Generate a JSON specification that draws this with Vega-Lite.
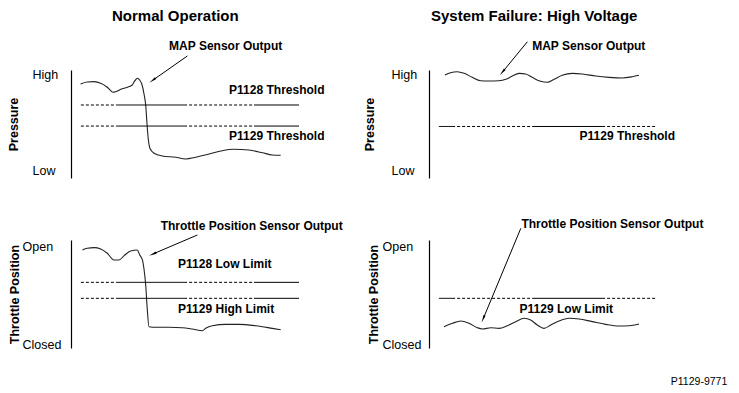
{
  "$schema": "https://vega.github.io/schema/vega-lite/v6.json",
  "background": "white",
  "padding": {"left": 7, "top": 8, "right": 5, "bottom": 5},
  "config": {
    "font": "Liberation Sans",
    "view": {"stroke": null},
    "axisY": {
      "domainColor": "black", "domainWidth": 1.2, "ticks": false, "tickSize": 0, "grid": false,
      "labelAlign": "left", "labelBaseline": "middle", "labelFont": "Liberation Sans", "labelFontSize": 12.5,
      "labelColor": "black", "titleFont": "Liberation Sans", "titleFontSize": 12.5, "titleFontWeight": "bold",
      "titleColor": "black", "labelOverlap": false, "labelBound": false
    },
    "title": {"font": "Liberation Sans", "fontSize": 15, "fontWeight": "bold", "color": "black", "anchor": "start", "frame": "group", "baseline": "alphabetic", "offset": 16}
  },
  "datasets": {
    "curves": [
      {"panel": "TL", "x": 3.2, "y": 87.0}, {"panel": "TL", "x": 5.4, "y": 88.9}, {"panel": "TL", "x": 7.7, "y": 89.2},
      {"panel": "TL", "x": 9.9, "y": 87.7}, {"panel": "TL", "x": 12.1, "y": 84.0}, {"panel": "TL", "x": 14.0, "y": 79.4},
      {"panel": "TL", "x": 14.9, "y": 79.9}, {"panel": "TL", "x": 16.6, "y": 82.1}, {"panel": "TL", "x": 18.8, "y": 84.0},
      {"panel": "TL", "x": 20.4, "y": 86.1}, {"panel": "TL", "x": 21.3, "y": 90.1}, {"panel": "TL", "x": 22.1, "y": 92.3},
      {"panel": "TL", "x": 22.9, "y": 90.7}, {"panel": "TL", "x": 23.6, "y": 87.0}, {"panel": "TL", "x": 24.3, "y": 78.4},
      {"panel": "TL", "x": 24.9, "y": 67.6}, {"panel": "TL", "x": 25.4, "y": 47.5}, {"panel": "TL", "x": 25.8, "y": 35.2},
      {"panel": "TL", "x": 26.3, "y": 27.5}, {"panel": "TL", "x": 27.7, "y": 22.9}, {"panel": "TL", "x": 30.4, "y": 20.4},
      {"panel": "TL", "x": 34.9, "y": 19.2}, {"panel": "TL", "x": 38.2, "y": 17.6}, {"panel": "TL", "x": 41.6, "y": 19.2},
      {"panel": "TL", "x": 46.0, "y": 22.2}, {"panel": "TL", "x": 50.4, "y": 25.3}, {"panel": "TL", "x": 54.3, "y": 26.6},
      {"panel": "TL", "x": 59.3, "y": 25.9}, {"panel": "TL", "x": 63.8, "y": 23.4}, {"panel": "TL", "x": 67.1, "y": 21.3},
      {"panel": "TL", "x": 69.9, "y": 21.0},
      {"panel": "TR", "x": 5.3, "y": 95.4}, {"panel": "TR", "x": 7.2, "y": 97.5}, {"panel": "TR", "x": 9.4, "y": 98.4},
      {"panel": "TR", "x": 11.7, "y": 96.9}, {"panel": "TR", "x": 14.4, "y": 93.2}, {"panel": "TR", "x": 17.2, "y": 90.1},
      {"panel": "TR", "x": 20.0, "y": 89.8}, {"panel": "TR", "x": 23.3, "y": 90.1}, {"panel": "TR", "x": 25.6, "y": 91.4},
      {"panel": "TR", "x": 27.8, "y": 94.4}, {"panel": "TR", "x": 30.0, "y": 96.9}, {"panel": "TR", "x": 32.2, "y": 96.3},
      {"panel": "TR", "x": 34.4, "y": 93.2}, {"panel": "TR", "x": 37.2, "y": 89.5}, {"panel": "TR", "x": 39.4, "y": 88.6},
      {"panel": "TR", "x": 41.7, "y": 91.4}, {"panel": "TR", "x": 44.4, "y": 95.1}, {"panel": "TR", "x": 47.8, "y": 96.9},
      {"panel": "TR", "x": 51.1, "y": 96.3}, {"panel": "TR", "x": 55.6, "y": 94.4}, {"panel": "TR", "x": 60.0, "y": 93.2},
      {"panel": "TR", "x": 64.4, "y": 92.6}, {"panel": "TR", "x": 67.8, "y": 93.8}, {"panel": "TR", "x": 70.0, "y": 95.1},
      {"panel": "BL", "x": 3.8, "y": 90.7}, {"panel": "BL", "x": 5.4, "y": 92.3}, {"panel": "BL", "x": 7.7, "y": 92.9},
      {"panel": "BL", "x": 9.9, "y": 91.7}, {"panel": "BL", "x": 12.1, "y": 87.7}, {"panel": "BL", "x": 14.3, "y": 81.5},
      {"panel": "BL", "x": 16.0, "y": 81.5}, {"panel": "BL", "x": 17.7, "y": 85.5}, {"panel": "BL", "x": 19.9, "y": 89.8},
      {"panel": "BL", "x": 22.1, "y": 90.7}, {"panel": "BL", "x": 22.9, "y": 86.1}, {"panel": "BL", "x": 23.8, "y": 81.5},
      {"panel": "BL", "x": 24.3, "y": 73.8}, {"panel": "BL", "x": 24.9, "y": 58.3}, {"panel": "BL", "x": 25.4, "y": 36.8},
      {"panel": "BL", "x": 26.0, "y": 19.7}, {"panel": "BL", "x": 28.2, "y": 19.2}, {"panel": "BL", "x": 32.7, "y": 19.2},
      {"panel": "BL", "x": 37.1, "y": 18.8}, {"panel": "BL", "x": 40.4, "y": 17.6}, {"panel": "BL", "x": 43.8, "y": 16.0},
      {"panel": "BL", "x": 44.9, "y": 18.2}, {"panel": "BL", "x": 47.1, "y": 20.6}, {"panel": "BL", "x": 51.6, "y": 21.9},
      {"panel": "BL", "x": 56.0, "y": 21.9}, {"panel": "BL", "x": 61.6, "y": 20.6}, {"panel": "BL", "x": 67.1, "y": 18.2},
      {"panel": "BL", "x": 69.9, "y": 16.9},
      {"panel": "BR", "x": 5.0, "y": 19.7}, {"panel": "BR", "x": 7.8, "y": 22.9}, {"panel": "BR", "x": 10.6, "y": 25.0},
      {"panel": "BR", "x": 13.3, "y": 22.9}, {"panel": "BR", "x": 16.1, "y": 18.8}, {"panel": "BR", "x": 17.8, "y": 17.6},
      {"panel": "BR", "x": 20.6, "y": 18.8}, {"panel": "BR", "x": 23.3, "y": 18.2}, {"panel": "BR", "x": 26.1, "y": 20.6},
      {"panel": "BR", "x": 28.9, "y": 24.4}, {"panel": "BR", "x": 31.7, "y": 27.5}, {"panel": "BR", "x": 33.9, "y": 25.9},
      {"panel": "BR", "x": 36.1, "y": 21.3}, {"panel": "BR", "x": 38.3, "y": 18.2}, {"panel": "BR", "x": 40.6, "y": 21.3},
      {"panel": "BR", "x": 43.3, "y": 25.0}, {"panel": "BR", "x": 46.7, "y": 27.5}, {"panel": "BR", "x": 50.0, "y": 26.9},
      {"panel": "BR", "x": 54.4, "y": 24.4}, {"panel": "BR", "x": 58.9, "y": 21.9}, {"panel": "BR", "x": 63.3, "y": 20.4},
      {"panel": "BR", "x": 66.7, "y": 20.6}, {"panel": "BR", "x": 70.0, "y": 22.2}
    ],
    "limits": [
      {"panel": "TL", "x": 3.3, "x2": 15.3, "y": 67.6, "kind": "dashed"},
      {"panel": "TL", "x": 15.3, "x2": 37.7, "y": 67.6, "kind": "solid"},
      {"panel": "TL", "x": 37.7, "x2": 61, "y": 67.6, "kind": "dashed"},
      {"panel": "TL", "x": 61, "x2": 76, "y": 67.6, "kind": "solid"},
      {"panel": "TL", "x": 3.3, "x2": 15.3, "y": 48.1, "kind": "dashed"},
      {"panel": "TL", "x": 15.3, "x2": 37.7, "y": 48.1, "kind": "solid"},
      {"panel": "TL", "x": 37.7, "x2": 61, "y": 48.1, "kind": "dashed"},
      {"panel": "TL", "x": 61, "x2": 76, "y": 48.1, "kind": "solid"},
      {"panel": "TR", "x": 3.3, "x2": 7.7, "y": 47.7, "kind": "solid"},
      {"panel": "TR", "x": 7.7, "x2": 35, "y": 47.7, "kind": "dashed"},
      {"panel": "TR", "x": 35, "x2": 57.7, "y": 47.7, "kind": "solid"},
      {"panel": "TR", "x": 57.7, "x2": 76, "y": 47.7, "kind": "dashed"},
      {"panel": "BL", "x": 3.3, "x2": 15.3, "y": 60.8, "kind": "dashed"},
      {"panel": "BL", "x": 15.3, "x2": 37.7, "y": 60.8, "kind": "solid"},
      {"panel": "BL", "x": 37.7, "x2": 61, "y": 60.8, "kind": "dashed"},
      {"panel": "BL", "x": 61, "x2": 76, "y": 60.8, "kind": "solid"},
      {"panel": "BL", "x": 3.3, "x2": 15.3, "y": 46.0, "kind": "dashed"},
      {"panel": "BL", "x": 15.3, "x2": 37.7, "y": 46.0, "kind": "solid"},
      {"panel": "BL", "x": 37.7, "x2": 61, "y": 46.0, "kind": "dashed"},
      {"panel": "BL", "x": 61, "x2": 76, "y": 46.0, "kind": "solid"},
      {"panel": "BR", "x": 3.3, "x2": 7.7, "y": 46.0, "kind": "solid"},
      {"panel": "BR", "x": 7.7, "x2": 35, "y": 46.0, "kind": "dashed"},
      {"panel": "BR", "x": 35, "x2": 57.7, "y": 46.0, "kind": "solid"},
      {"panel": "BR", "x": 57.7, "x2": 76, "y": 46.0, "kind": "dashed"}
    ],
    "arrows": [
      {"panel": "TL", "x": 38.8, "y": 113, "x2": 27.5, "y2": 91.0},
      {"panel": "TR", "x": 32.8, "y": 126.2, "x2": 24.7, "y2": 98.8},
      {"panel": "BL", "x": 42.1, "y": 104.6, "x2": 27.6, "y2": 87.4},
      {"panel": "BR", "x": 30.6, "y": 110.8, "x2": 18.2, "y2": 28.0}
    ],
    "notes": [
      {"panel": "TL", "x": 32.7, "y": 122.2, "text": "MAP Sensor Output"},
      {"panel": "TL", "x": 52.7, "y": 81.5, "text": "P1128 Threshold"},
      {"panel": "TL", "x": 52.7, "y": 38.9, "text": "P1129 Threshold"},
      {"panel": "TR", "x": 34.4, "y": 122.5, "text": "MAP Sensor Output"},
      {"panel": "TR", "x": 50.2, "y": 38.9, "text": "P1129 Threshold"},
      {"panel": "BL", "x": 29.9, "y": 113, "text": "Throttle Position Sensor Output"},
      {"panel": "BL", "x": 35.7, "y": 77.5, "text": "P1128 Low Limit"},
      {"panel": "BL", "x": 35.7, "y": 35.8, "text": "P1129 High Limit"},
      {"panel": "BR", "x": 30.8, "y": 114.5, "text": "Throttle Position Sensor Output"},
      {"panel": "BR", "x": 30.2, "y": 35.8, "text": "P1129 Low Limit"}
    ],
    "codes": [
      {"panel": "BR", "x": 80.6, "y": -31.2, "text": "P1129-9771"}
    ]
  },
  "concat": [
    {
      "width": 300, "height": 108,
      "title": {"text": "Normal Operation", "dx": 41},
      "encoding": {
        "x": {"field": "x", "type": "quantitative", "scale": {"domain": [0, 100], "nice": false, "zero": false}, "axis": null},
        "y": {"field": "y", "type": "quantitative", "scale": {"domain": [0, 100], "nice": false, "zero": false},
              "axis": {"title": "Pressure", "values": [96, 6.5], "labelExpr": "datum.value > 50 ? 'High' : 'Low'", "labelPadding": 39, "titlePadding": 12}}
      },
      "layer": [
        {"data": {"name": "curves"}, "transform": [{"filter": "datum.panel == 'TL'"}], "mark": {"type": "line", "interpolate": "monotone", "color": "#222", "strokeWidth": 1.1}},
        {"data": {"name": "limits"}, "transform": [{"filter": "datum.panel == 'TL'"}], "mark": {"type": "rule", "color": "black", "strokeWidth": 1},
         "encoding": {"x2": {"field": "x2"}, "strokeDash": {"field": "kind", "type": "nominal", "scale": {"domain": ["dashed", "solid"], "range": [[3, 2], [1, 0]]}, "legend": null}}},
        {"data": {"name": "arrows"}, "transform": [{"filter": "datum.panel == 'TL'"}], "mark": {"type": "rule", "color": "black", "strokeWidth": 1},
         "encoding": {"x2": {"field": "x2"}, "y2": {"field": "y2"}}},
        {"data": {"name": "arrows"}, "transform": [{"filter": "datum.panel == 'TL'"}], "mark": {"type": "point", "shape": "wedge", "filled": true, "color": "black", "opacity": 1, "size": 80, "angle": 234},
         "encoding": {"x": {"field": "x2", "type": "quantitative"}, "y": {"field": "y2", "type": "quantitative"}}},
        {"data": {"name": "notes"}, "transform": [{"filter": "datum.panel == 'TL'"}], "mark": {"type": "text", "align": "left", "baseline": "middle", "fontSize": 12, "fontWeight": "bold", "color": "black"},
         "encoding": {"text": {"field": "text"}}}
      ]
    },
    {
      "width": 300, "height": 108,
      "title": {"text": "System Failure: High Voltage", "dx": 2},
      "encoding": {
        "x": {"field": "x", "type": "quantitative", "scale": {"domain": [0, 100], "nice": false, "zero": false}, "axis": null},
        "y": {"field": "y", "type": "quantitative", "scale": {"domain": [0, 100], "nice": false, "zero": false},
              "axis": {"title": "Pressure", "values": [96, 6.5], "labelExpr": "datum.value > 50 ? 'High' : 'Low'", "labelPadding": 38, "titlePadding": 15}}
      },
      "layer": [
        {"data": {"name": "curves"}, "transform": [{"filter": "datum.panel == 'TR'"}], "mark": {"type": "line", "interpolate": "monotone", "color": "#222", "strokeWidth": 1.1}},
        {"data": {"name": "limits"}, "transform": [{"filter": "datum.panel == 'TR'"}], "mark": {"type": "rule", "color": "black", "strokeWidth": 1},
         "encoding": {"x2": {"field": "x2"}, "strokeDash": {"field": "kind", "type": "nominal", "scale": {"domain": ["dashed", "solid"], "range": [[3, 2], [1, 0]]}, "legend": null}}},
        {"data": {"name": "arrows"}, "transform": [{"filter": "datum.panel == 'TR'"}], "mark": {"type": "rule", "color": "black", "strokeWidth": 1},
         "encoding": {"x2": {"field": "x2"}, "y2": {"field": "y2"}}},
        {"data": {"name": "arrows"}, "transform": [{"filter": "datum.panel == 'TR'"}], "mark": {"type": "point", "shape": "wedge", "filled": true, "color": "black", "opacity": 1, "size": 80, "angle": 220},
         "encoding": {"x": {"field": "x2", "type": "quantitative"}, "y": {"field": "y2", "type": "quantitative"}}},
        {"data": {"name": "notes"}, "transform": [{"filter": "datum.panel == 'TR'"}], "mark": {"type": "text", "align": "left", "baseline": "middle", "fontSize": 12, "fontWeight": "bold", "color": "black"},
         "encoding": {"text": {"field": "text"}}}
      ]
    },
    {
      "width": 300, "height": 108,
      "encoding": {
        "x": {"field": "x", "type": "quantitative", "scale": {"domain": [0, 100], "nice": false, "zero": false}, "axis": null},
        "y": {"field": "y", "type": "quantitative", "scale": {"domain": [0, 100], "nice": false, "zero": false},
              "axis": {"title": "Throttle Position", "values": [94, 3.7], "labelExpr": "datum.value > 50 ? 'Open' : 'Closed'", "labelPadding": 49, "titlePadding": 1}}
      },
      "layer": [
        {"data": {"name": "curves"}, "transform": [{"filter": "datum.panel == 'BL'"}], "mark": {"type": "line", "interpolate": "monotone", "color": "#222", "strokeWidth": 1.1}},
        {"data": {"name": "limits"}, "transform": [{"filter": "datum.panel == 'BL'"}], "mark": {"type": "rule", "color": "black", "strokeWidth": 1},
         "encoding": {"x2": {"field": "x2"}, "strokeDash": {"field": "kind", "type": "nominal", "scale": {"domain": ["dashed", "solid"], "range": [[3, 2], [1, 0]]}, "legend": null}}},
        {"data": {"name": "arrows"}, "transform": [{"filter": "datum.panel == 'BL'"}], "mark": {"type": "rule", "color": "black", "strokeWidth": 1},
         "encoding": {"x2": {"field": "x2"}, "y2": {"field": "y2"}}},
        {"data": {"name": "arrows"}, "transform": [{"filter": "datum.panel == 'BL'"}], "mark": {"type": "point", "shape": "wedge", "filled": true, "color": "black", "opacity": 1, "size": 80, "angle": 247},
         "encoding": {"x": {"field": "x2", "type": "quantitative"}, "y": {"field": "y2", "type": "quantitative"}}},
        {"data": {"name": "notes"}, "transform": [{"filter": "datum.panel == 'BL'"}], "mark": {"type": "text", "align": "left", "baseline": "middle", "fontSize": 12, "fontWeight": "bold", "color": "black"},
         "encoding": {"text": {"field": "text"}}}
      ]
    },
    {
      "width": 300, "height": 108,
      "encoding": {
        "x": {"field": "x", "type": "quantitative", "scale": {"domain": [0, 100], "nice": false, "zero": false}, "axis": null},
        "y": {"field": "y", "type": "quantitative", "scale": {"domain": [0, 100], "nice": false, "zero": false},
              "axis": {"title": "Throttle Position", "values": [94, 3.7], "labelExpr": "datum.value > 50 ? 'Open' : 'Closed'", "labelPadding": 47, "titlePadding": 1.5}}
      },
      "layer": [
        {"data": {"name": "curves"}, "transform": [{"filter": "datum.panel == 'BR'"}], "mark": {"type": "line", "interpolate": "monotone", "color": "#222", "strokeWidth": 1.1}},
        {"data": {"name": "limits"}, "transform": [{"filter": "datum.panel == 'BR'"}], "mark": {"type": "rule", "color": "black", "strokeWidth": 1},
         "encoding": {"x2": {"field": "x2"}, "strokeDash": {"field": "kind", "type": "nominal", "scale": {"domain": ["dashed", "solid"], "range": [[3, 2], [1, 0]]}, "legend": null}}},
        {"data": {"name": "arrows"}, "transform": [{"filter": "datum.panel == 'BR'"}], "mark": {"type": "rule", "color": "black", "strokeWidth": 1},
         "encoding": {"x2": {"field": "x2"}, "y2": {"field": "y2"}}},
        {"data": {"name": "arrows"}, "transform": [{"filter": "datum.panel == 'BR'"}], "mark": {"type": "point", "shape": "wedge", "filled": true, "color": "black", "opacity": 1, "size": 80, "angle": 202},
         "encoding": {"x": {"field": "x2", "type": "quantitative"}, "y": {"field": "y2", "type": "quantitative"}}},
        {"data": {"name": "notes"}, "transform": [{"filter": "datum.panel == 'BR'"}], "mark": {"type": "text", "align": "left", "baseline": "middle", "fontSize": 12, "fontWeight": "bold", "color": "black"},
         "encoding": {"text": {"field": "text"}}},
        {"data": {"name": "codes"}, "transform": [{"filter": "datum.panel == 'BR'"}], "mark": {"type": "text", "align": "left", "baseline": "middle", "fontSize": 10.5, "color": "black"},
         "encoding": {"text": {"field": "text"}}}
      ]
    }
  ],
  "columns": 2,
  "spacing": {"row": 62, "column": 58},
  "bounds": "flush"
}
